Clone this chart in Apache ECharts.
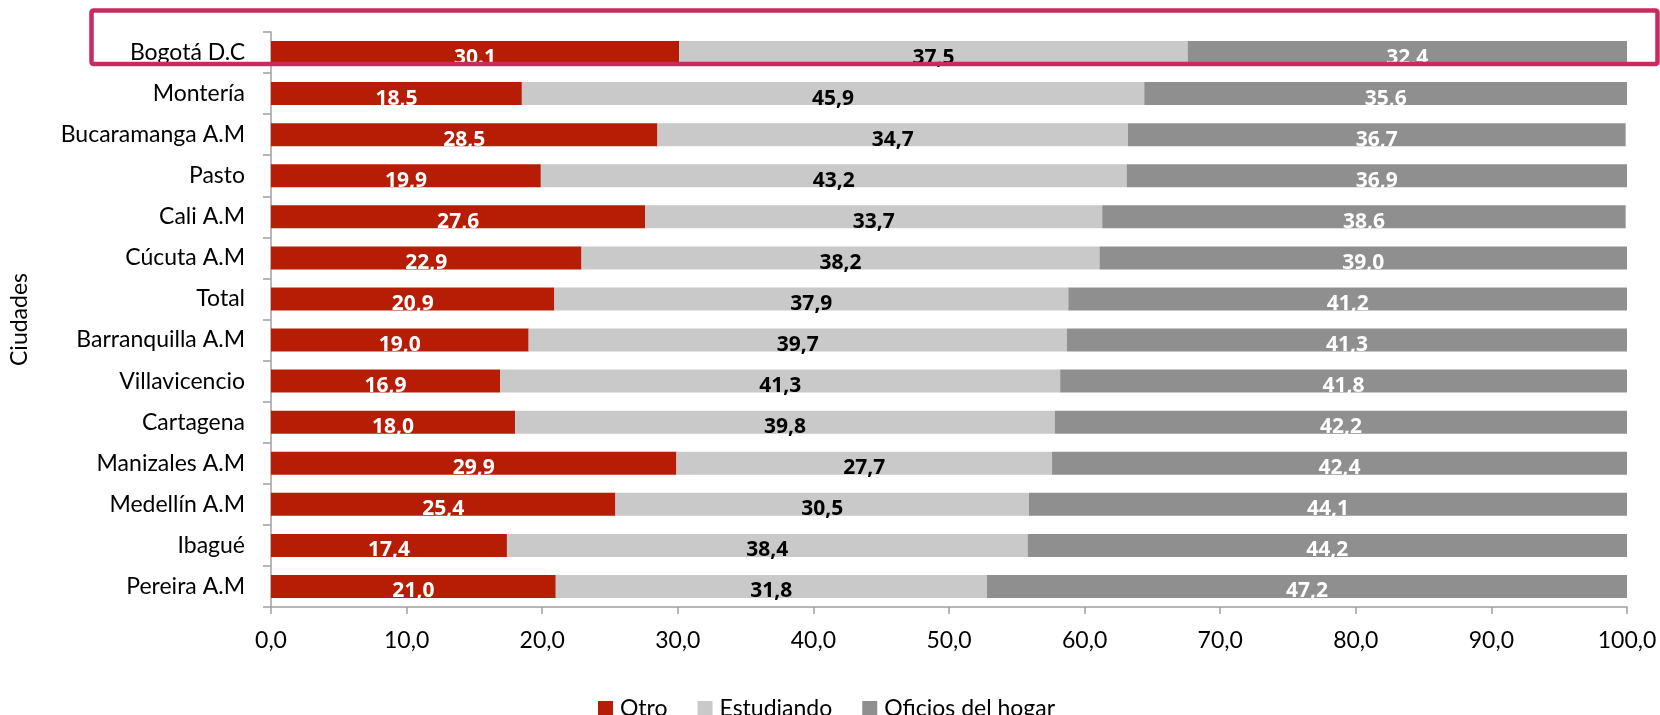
<!DOCTYPE html>
<html>
<head>
<meta charset="utf-8">
<script src="https://cdn.jsdelivr.net/npm/echarts@6/dist/echarts.min.js"></script>
<style>html,body{margin:0;padding:0;background:#fff}#c{width:1660px;height:715px}</style>
</head>
<body>
<div id="c"></div>
<script>
const categories = ["Bogotá D.C","Montería","Bucaramanga A.M","Pasto","Cali A.M","Cúcuta A.M","Total","Barranquilla A.M","Villavicencio","Cartagena","Manizales A.M","Medellín A.M","Ibagué","Pereira A.M"];
const otro = [30.1,18.5,28.5,19.9,27.6,22.9,20.9,19.0,16.9,18.0,29.9,25.4,17.4,21.0];
const estudiando = [37.5,45.9,34.7,43.2,33.7,38.2,37.9,39.7,41.3,39.8,27.7,30.5,38.4,31.8];
const oficios = [32.4,35.6,36.7,36.9,38.6,39.0,41.2,41.3,41.8,42.2,42.4,44.1,44.2,47.2];
const xTicks = [0,10,20,30,40,50,60,70,80,90,100];

const FONT = 'Lato, "Open Sans", sans-serif';
const LFONT = '"Open Sans", Lato, sans-serif';
function fmt(v){ return v.toFixed(1).replace('.', ','); }
function mkLabel(color, keepDot){
  return {
    show: true, position: 'inside', offset: [0, 5],
    color: color, fontWeight: 'bold', fontSize: 21, fontFamily: LFONT,
    formatter: p => (keepDot && p.dataIndex === 0) ? p.value.toFixed(1) : fmt(p.value)
  };
}
const chart = echarts.init(document.getElementById('c'));
chart.setOption({
  animation: false,
  grid: {left: 268, right: 33, top: 32, bottom: 108},
  legend: {
    left: 593, top: 692, itemWidth: 15, itemHeight: 15, itemGap: 30,
    icon: 'rect',
    textStyle: {fontSize: 23, fontFamily: FONT, color: '#000', padding: [0,0,0,2]},
    data: ['Otro','Estudiando','Oficios del hogar']
  },
  xAxis: {
    type: 'value', min: 0, max: 100, interval: 10,
    axisLine: {show: true, lineStyle: {color: '#a0a0a0', width: 1.5}},
    axisTick: {show: true, length: 7, lineStyle: {color: '#a0a0a0', width: 1.5}},
    splitLine: {show: false},
    axisLabel: {fontSize: 23, fontFamily: FONT, color: '#000', margin: 22, formatter: v => fmt(v)}
  },
  yAxis: {
    type: 'category', data: categories, inverse: true,
    name: 'Ciudades', nameLocation: 'middle', nameGap: 240, nameRotate: 90,
    nameTextStyle: {fontSize: 23, fontFamily: FONT, color: '#000'},
    axisLine: {show: true, lineStyle: {color: '#a0a0a0', width: 1.5}},
    axisTick: {show: true, length: 8, lineStyle: {color: '#a0a0a0', width: 1.5}},
    axisLabel: {fontSize: 23, fontFamily: FONT, color: '#000', margin: 26}
  },
  series: [
    {name: 'Otro', type: 'bar', stack: 't', data: otro, barWidth: '56%',
     itemStyle: {color: '#b71c05'}, label: mkLabel('#fff', true)},
    {name: 'Estudiando', type: 'bar', stack: 't', data: estudiando, barWidth: '56%',
     itemStyle: {color: '#c9c9c9'}, label: mkLabel('#000', false)},
    {name: 'Oficios del hogar', type: 'bar', stack: 't', data: oficios, barWidth: '56%',
     itemStyle: {color: '#8f8f8f'}, label: mkLabel('#fff', false)}
  ],
  graphic: [{
    type: 'rect', z: 100, silent: true,
    shape: {x: 91.5, y: 10.5, width: 1566, height: 53.5, r: 2},
    style: {fill: 'none', stroke: '#cc2a5f', lineWidth: 4.5}
  }]
});
</script>
</body>
</html>
